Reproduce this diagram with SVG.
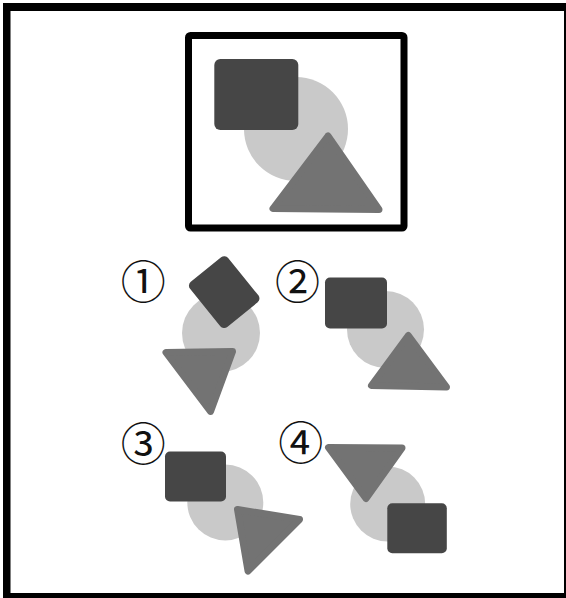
<svg xmlns="http://www.w3.org/2000/svg" width="566" height="598" viewBox="0 0 566 598">
<style>
.sq{fill:#464646;}
.ci{fill:#c9c9c9;}
.tr{fill:#737373;stroke:#737373;stroke-width:7;stroke-linejoin:round;}
.lb{font-family:"DejaVu Serif","Noto Sans CJK SC",serif;font-size:45px;fill:#111;text-anchor:middle;dominant-baseline:central;}
</style>
<rect x="0" y="0" width="566" height="598" fill="#ffffff"/>
<path d="M3 3H566V598H3Z M10.5 11V593H564V11Z" fill="#000" fill-rule="evenodd"/>
<g id="reference">
<rect x="188.5" y="35.5" width="215.5" height="192.5" fill="none" stroke="#000" stroke-width="7" rx="2"/>
<circle class="ci" cx="296" cy="129" r="52"/>
<rect class="sq" x="214.3" y="59" width="84" height="71" rx="6"/>
<polygon class="tr" points="328,136 273,208.5 379,209.5"/>
</g>
<g id="option1">
<text class="lb" x="143.3" y="283.3">①</text>
<circle class="ci" cx="221" cy="333" r="39"/>
<rect class="sq" x="-29" y="-24.5" width="58" height="49" rx="5" transform="translate(224.2 292.1) rotate(51)"/>
<polygon class="tr" points="166,352.5 232.5,351.5 210.5,411.5"/>
</g>
<g id="option2">
<text class="lb" x="297.5" y="283">②</text>
<circle class="ci" cx="385.5" cy="329.5" r="38.5"/>
<rect class="sq" x="325" y="277.5" width="62" height="51" rx="5"/>
<polygon class="tr" points="408.3,335.5 371.5,385.5 446.5,387"/>
</g>
<g id="option3">
<text class="lb" x="143.3" y="445.8">③</text>
<circle class="ci" cx="225.3" cy="502.5" r="38"/>
<rect class="sq" x="165" y="451.5" width="61" height="50" rx="5"/>
<polygon class="tr" points="237.5,509.5 299.5,519.5 248,571"/>
</g>
<g id="option4">
<text class="lb" x="300.8" y="444.2">④</text>
<circle class="ci" cx="387.7" cy="504" r="37.5"/>
<polygon class="tr" points="328.5,447.5 402,448 366,498.5"/>
<rect class="sq" x="387.3" y="503.3" width="59.5" height="50" rx="5"/>
</g>
<g id="connectors"/>
</svg>
